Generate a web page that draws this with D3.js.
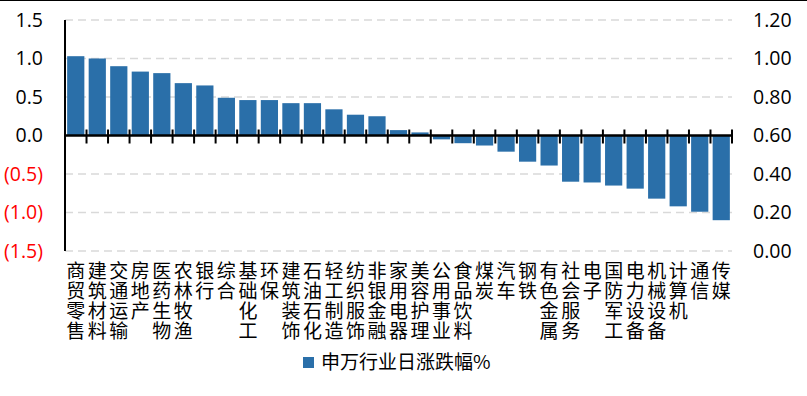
<!DOCTYPE html>
<html>
<head>
<meta charset="utf-8">
<script src="https://cdn.jsdelivr.net/npm/d3@7"></script>
<style>
  body { margin: 0; background: #fff; }
  svg { display: block; }
  text { font-family: "Open Sans", "Noto Sans", sans-serif; }
  .cat text, .legend text { font-family: "Noto Sans CJK SC", sans-serif; }
  .cat text { writing-mode: vertical-rl; text-orientation: upright; }
</style>
</head>
<body>
<div id="chart"></div>
<script>
var categories = ['商贸零售', '建筑材料', '交通运输', '房地产', '医药生物', '农林牧渔', '银行', '综合',
  '基础化工', '环保', '建筑装饰', '石油石化', '轻工制造', '纺织服饰', '非银金融', '家用电器',
  '美容护理', '公用事业', '食品饮料', '煤炭', '汽车', '钢铁', '有色金属', '社会服务',
  '电子', '国防军工', '电力设备', '机械设备', '计算机', '通信', '传媒'];
var changes = [1.03, 1.00, 0.90, 0.83, 0.81, 0.68, 0.65, 0.49, 0.46, 0.46, 0.42, 0.42, 0.34, 0.27,
  0.25, 0.07, 0.04, -0.05, -0.10, -0.13, -0.21, -0.34, -0.39, -0.60, -0.61, -0.65, -0.69,
  -0.82, -0.92, -0.99, -1.10];
var leftTicks = [-1.5, -1.0, -0.5, 0, 0.5, 1.0, 1.5];
var rightTicks = [0, 0.2, 0.4, 0.6, 0.8, 1.0, 1.2];
var seriesName = '申万行业日涨跌幅%';

var width = 807;
var height = 396;
var plotLeft = 65;
var plotRight = 732;
var plotTop = 20;
var plotBottom = 251;
var barColor = '#2a6fa9';

var svg = d3.select('#chart').append('svg').attr('width', width).attr('height', height);

// frame line across the top
svg.append('line')
  .attr('x1', 0).attr('x2', width).attr('y1', 0.5).attr('y2', 0.5)
  .attr('stroke', '#000').attr('stroke-width', 1);

var x = d3.scaleBand().domain(categories).range([plotLeft, plotRight]).paddingInner(0.2).paddingOuter(0.1);
var y = d3.scaleLinear().domain([-1.5, 1.5]).range([plotBottom, plotTop]);
var y2 = d3.scaleLinear().domain([0, 1.2]).range([plotBottom, plotTop]);

// dashed grid
svg.append('g').selectAll('line')
  .data(leftTicks.filter(function (d) { return d !== 0; }))
  .enter().append('line')
  .attr('x1', plotLeft).attr('x2', plotRight)
  .attr('y1', function (d) { return y(d); }).attr('y2', function (d) { return y(d); })
  .attr('stroke', '#d9d9d9').attr('stroke-width', 1.5)
  .attr('stroke-dasharray', '8,5');

// bars
svg.append('g').selectAll('rect')
  .data(changes)
  .enter().append('rect')
  .attr('x', function (d, i) { return x(categories[i]); })
  .attr('width', x.bandwidth())
  .attr('y', function (d) { return y(Math.max(0, d)); })
  .attr('height', function (d) { return Math.abs(y(d) - y(0)); })
  .attr('fill', barColor);

// left axis
var leftAxis = d3.axisLeft(y).tickValues(leftTicks).tickSize(0).tickPadding(0)
  .tickFormat(function (d) {
    var s = Math.abs(d).toFixed(1);
    return d < 0 ? '(' + s + ')' : s;
  });
var gl = svg.append('g').attr('transform', 'translate(43,0)').call(leftAxis);
gl.select('.domain').remove();
gl.selectAll('text')
  .attr('font-size', 19.5)
  .attr('font-family', '"Open Sans", sans-serif')
  .attr('fill', function (d) { return d < 0 ? '#ff0000' : '#000'; });

svg.append('line')
  .attr('x1', plotLeft).attr('x2', plotLeft)
  .attr('y1', plotTop).attr('y2', plotBottom)
  .attr('stroke', '#000').attr('stroke-width', 2);

// right axis
var rightAxis = d3.axisRight(y2).tickValues(rightTicks).tickSize(0).tickPadding(0)
  .tickFormat(d3.format('.2f'));
var gr = svg.append('g').attr('transform', 'translate(753,0)').call(rightAxis);
gr.select('.domain').remove();
gr.selectAll('text')
  .attr('font-size', 19.5)
  .attr('font-family', '"Open Sans", sans-serif')
  .attr('fill', '#000');

// zero line with ticks at band edges
var zeroY = y(0);
svg.append('line')
  .attr('x1', plotLeft).attr('x2', plotRight)
  .attr('y1', zeroY).attr('y2', zeroY)
  .attr('stroke', '#000').attr('stroke-width', 2.5);

var step = x.step();
var edges = d3.range(1, categories.length + 1).map(function (i) { return plotLeft + i * step; });
svg.append('g').selectAll('line')
  .data(edges)
  .enter().append('line')
  .attr('x1', function (d) { return d; }).attr('x2', function (d) { return d; })
  .attr('y1', zeroY - 6).attr('y2', zeroY + 8)
  .attr('stroke', '#000').attr('stroke-width', 2);

// category labels, written top to bottom
svg.append('g').attr('class', 'cat')
  .selectAll('text')
  .data(categories)
  .enter().append('text')
  .attr('x', function (d) { return x(d) + x.bandwidth() / 2; })
  .attr('y', 261)
  .attr('font-size', 19)
  .attr('letter-spacing', 1)
  .attr('fill', '#000')
  .text(function (d) { return d; });

// legend
var legend = svg.append('g').attr('class', 'legend');
legend.append('rect')
  .attr('x', 303).attr('y', 357).attr('width', 11).attr('height', 11)
  .attr('fill', barColor);
legend.append('text')
  .attr('x', 321).attr('y', 369)
  .attr('font-size', 19)
  .attr('fill', '#000')
  .text(seriesName);
</script>
</body>
</html>
